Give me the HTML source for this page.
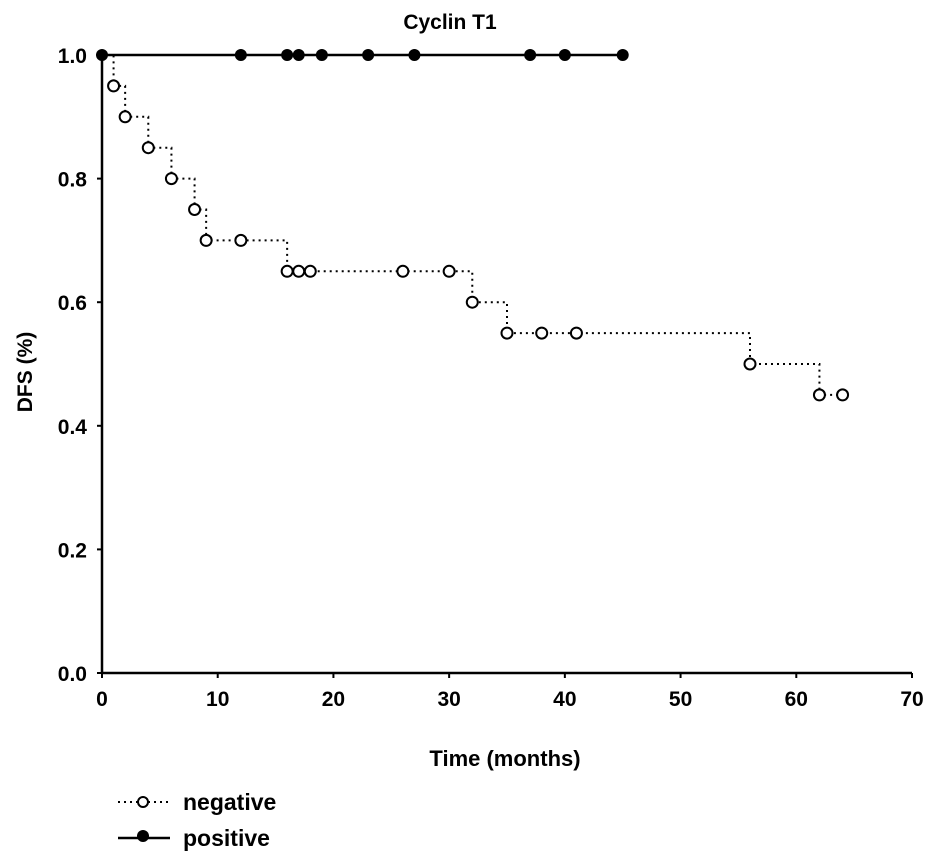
<!DOCTYPE html>
<html><head><meta charset="utf-8"><style>
body{margin:0;background:#fff}
svg text{font-family:"Liberation Sans",Arial,sans-serif;font-weight:bold;fill:#000}
</style></head><body>
<svg id="chart" width="945" height="862" xmlns="http://www.w3.org/2000/svg">
<text x="450" y="29" font-size="21" text-anchor="middle">Cyclin T1</text>
<g id="axes"></g>
<g id="plot"></g>
<text x="505" y="766" font-size="22" text-anchor="middle">Time (months)</text>
<text transform="translate(32,372) rotate(-90)" font-size="21" text-anchor="middle">DFS (%)</text>
<g>
<g>
<line x1="118" y1="802" x2="170" y2="802" stroke="#000" stroke-width="2" stroke-dasharray="2,4"/>
<circle cx="143" cy="802" r="5" fill="#fff" stroke="#000" stroke-width="2"/>
<text x="183" y="810" font-size="23">negative</text></g>
<g>
<line x1="118" y1="838" x2="170" y2="838" stroke="#000" stroke-width="2.5"/>
<circle cx="143" cy="836" r="6" fill="#000"/>
<text x="183" y="846" font-size="23">positive</text></g>
</g>
</svg>
<script>
const xTicks=[0,10,20,30,40,50,60,70];
const yTicks=[0.0,0.2,0.4,0.6,0.8,1.0];
const negTimes=[1,2,4,6,8,9,12,16,17,18,26,30,32,35,38,41,56,62,64];
const negSurv=[0.95,0.9,0.85,0.8,0.75,0.7,0.7,0.65,0.65,0.65,0.65,0.65,0.6,0.55,0.55,0.55,0.5,0.45,0.45];
const posTimes=[0,12,16,17,19,23,27,37,40,45];
const posSurv=[1,1,1,1,1,1,1,1,1,1];
const X=v=>102+v*(810/70), Y=v=>673-v*618;
const NS="http://www.w3.org/2000/svg";
function mk(t,a,p){const e=document.createElementNS(NS,t);for(const k in a)e.setAttribute(k,a[k]);p.appendChild(e);return e;}
const ax=document.getElementById('axes'), pl=document.getElementById('plot');
let e=mk('line',{x1:X(0),y1:Y(0),x2:X(70),y2:Y(0),stroke:'#000','stroke-width':2.5},ax);


e=mk('line',{x1:X(0),y1:Y(0),x2:X(0),y2:Y(1),stroke:'#000','stroke-width':2.5},ax);


xTicks.forEach(t=>{mk('line',{x1:X(t),y1:Y(0),x2:X(t),y2:Y(0)+5,stroke:'#000','stroke-width':2},ax);
const tx=mk('text',{x:X(t),y:706,'font-size':21,'text-anchor':'middle'},ax);tx.textContent=t;

});
yTicks.forEach(t=>{mk('line',{x1:X(0)-5,y1:Y(t),x2:X(0),y2:Y(t),stroke:'#000','stroke-width':2},ax);
const tx=mk('text',{x:87,y:Y(t)+8,'font-size':21,'text-anchor':'end'},ax);tx.textContent=t.toFixed(1);

});
let d='M'+X(0)+','+Y(1),prev=1;
negTimes.forEach((t,i)=>{d+=' L'+X(t)+','+Y(prev)+' L'+X(t)+','+Y(negSurv[i]);prev=negSurv[i];});
e=mk('path',{d:d,fill:'none',stroke:'#000','stroke-width':2,'stroke-dasharray':'2,4'},pl);


d='M'+X(posTimes[0])+','+Y(posSurv[0]);
posTimes.forEach((t,i)=>{d+=' L'+X(t)+','+Y(posSurv[i]);});
e=mk('path',{d:d,fill:'none',stroke:'#000','stroke-width':2.5},pl);


negTimes.forEach((t,i)=>{const c=mk('circle',{cx:X(t),cy:Y(negSurv[i]),r:5.5,fill:'#fff',stroke:'#000','stroke-width':2},pl);

});
posTimes.forEach((t,i)=>{const c=mk('circle',{cx:X(t),cy:Y(posSurv[i]),r:6,fill:'#000'},pl);

});
</script>
</body></html>
